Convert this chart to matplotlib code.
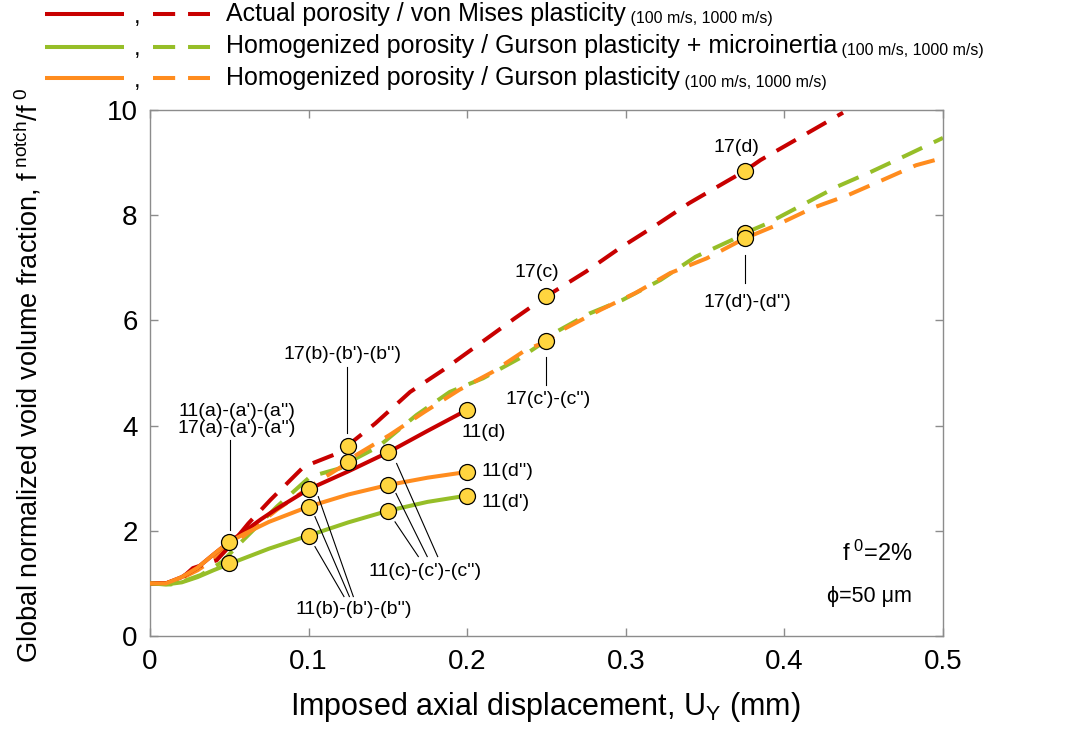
import matplotlib
matplotlib.use('Agg')
import matplotlib.pyplot as plt
from matplotlib.lines import Line2D

plt.rcParams['font.family'] = ['Liberation Sans', 'DejaVu Sans']
plt.rcParams['mathtext.fontset'] = 'custom'
plt.rcParams['mathtext.rm'] = 'Liberation Sans'
plt.rcParams['mathtext.it'] = 'Liberation Sans'

RED = '#C80000'
GREEN = '#96BE28'
ORANGE = '#FF8C1E'
GOLD = '#FFD53F'

# 100 m/s (solid) curves
u_red_100 = [0, 0.01, 0.02, 0.03, 0.04, 0.05, 0.06, 0.07, 0.08, 0.1, 0.125, 0.15, 0.175, 0.2]
f_red_100 = [1.0, 1.0, 1.12, 1.3, 1.55, 1.79, 2.0, 2.22, 2.42, 2.79, 3.13, 3.49, 3.9, 4.3]

u_grn_100 = [0, 0.01, 0.02, 0.03, 0.04, 0.05, 0.075, 0.1, 0.125, 0.15, 0.175, 0.2]
f_grn_100 = [1.0, 0.98, 1.02, 1.12, 1.25, 1.37, 1.66, 1.91, 2.16, 2.38, 2.55, 2.67]

u_org_100 = [0, 0.01, 0.02, 0.03, 0.04, 0.05, 0.06, 0.075, 0.1, 0.125, 0.15, 0.175, 0.2]
f_org_100 = [1.0, 1.0, 1.12, 1.3, 1.55, 1.79, 1.95, 2.17, 2.46, 2.69, 2.87, 3.01, 3.12]

# 1000 m/s (dashed) curves
u_red_1000 = [0, 0.01, 0.02, 0.027, 0.042, 0.05, 0.062, 0.076, 0.097, 0.118, 0.125, 0.142,
              0.164, 0.185, 0.208, 0.23, 0.25, 0.275, 0.296, 0.318, 0.34, 0.364, 0.375,
              0.385, 0.407, 0.437]
f_red_1000 = [1.0, 1.0, 1.1, 1.29, 1.44, 1.7, 2.14, 2.59, 3.22, 3.47, 3.63, 4.04,
              4.64, 5.06, 5.56, 6.04, 6.46, 6.93, 7.37, 7.79, 8.23, 8.65, 8.84,
              9.05, 9.43, 9.95]

u_grn_1000 = [0, 0.013, 0.02, 0.032, 0.045, 0.059, 0.08, 0.101, 0.12, 0.125, 0.144, 0.168,
              0.189, 0.21, 0.233, 0.25, 0.256, 0.277, 0.298, 0.322, 0.344, 0.367, 0.375,
              0.389, 0.411, 0.433, 0.455, 0.477, 0.5]
f_grn_1000 = [1.0, 0.98, 1.03, 1.16, 1.4, 1.83, 2.46, 3.03, 3.19, 3.3, 3.6, 4.2,
              4.64, 4.9, 5.28, 5.62, 5.78, 6.13, 6.39, 6.77, 7.21, 7.53, 7.66,
              7.84, 8.19, 8.54, 8.83, 9.14, 9.47]

u_org_1000 = [0, 0.01, 0.02, 0.03, 0.04, 0.05, 0.06, 0.08, 0.106, 0.125, 0.13, 0.151, 0.173,
              0.195, 0.216, 0.237, 0.25, 0.26, 0.284, 0.306, 0.328, 0.351, 0.375,
              0.395, 0.418, 0.44, 0.462, 0.483, 0.5]
f_org_1000 = [1.0, 1.0, 1.1, 1.25, 1.45, 1.72, 1.92, 2.4, 2.94, 3.3, 3.44, 3.82, 4.26,
              4.68, 5.02, 5.44, 5.6, 5.82, 6.2, 6.52, 6.9, 7.18, 7.56,
              7.81, 8.14, 8.38, 8.67, 8.95, 9.09]

# snapshot points referred to in Figs. 11 and 17
snap_u = [0.05, 0.05, 0.1, 0.1, 0.1, 0.125, 0.125, 0.15, 0.15, 0.15,
          0.2, 0.2, 0.2, 0.25, 0.25, 0.375, 0.375, 0.375]
snap_f = [1.79, 1.38, 2.79, 2.46, 1.91, 3.62, 3.30, 3.49, 2.87, 2.38,
          4.30, 3.12, 2.67, 6.46, 5.60, 8.84, 7.66, 7.56]

legend_labels = ['Actual porosity / von Mises plasticity',
                 'Homogenized porosity / Gurson plasticity + microinertia',
                 'Homogenized porosity / Gurson plasticity']
legend_colors = [RED, GREEN, ORANGE]

fig = plt.figure(figsize=(10.8, 7.34), dpi=100)
ax = fig.add_axes([0.1389, 0.1335, 0.7342, 0.7166])

lw = 2.9
dash = (0, (5.5, 3.2))
ax.plot(u_grn_1000, f_grn_1000, color=GREEN, lw=lw, ls=dash, zorder=2)
ax.plot(u_org_1000, f_org_1000, color=ORANGE, lw=lw, ls=dash, zorder=2)
ax.plot(u_red_1000, f_red_1000, color=RED, lw=lw, ls=dash, zorder=2)
ax.plot(u_red_100, f_red_100, color=RED, lw=lw, zorder=3)
ax.plot(u_grn_100, f_grn_100, color=GREEN, lw=lw, zorder=3)
ax.plot(u_org_100, f_org_100, color=ORANGE, lw=lw, zorder=3)

ax.plot(snap_u, snap_f, 'o', ms=11.5, mfc=GOLD, mec='black', mew=0.9, zorder=5)

ax.set_xlim(0, 0.5)
ax.set_ylim(0, 10)
ax.set_xticks([0, 0.1, 0.2, 0.3, 0.4, 0.5])
ax.set_xticklabels(['0', '0.1', '0.2', '0.3', '0.4', '0.5'])
ax.set_yticks([0, 2, 4, 6, 8, 10])
for s in ax.spines.values():
    s.set_color('#8c8c8c')
    s.set_linewidth(1.0)
ax.tick_params(direction='in', length=6, width=1, color='#8c8c8c', labelsize=20,
               top=True, right=True, pad=9)

ax.set_xlabel(r'Imposed axial displacement, U$_\mathregular{Y}$ (mm)', fontsize=22)
ax.xaxis.set_label_coords(0.498, -0.102)
ax.set_ylabel(r'Global normalized void volume fraction, f$^\mathregular{\ notch}$/f$^\mathregular{\ 0}$',
              fontsize=19.5)
ax.yaxis.set_label_coords(-0.134, 0.496)

# point labels and leader lines
fs = 14
lk = dict(color='black', lw=0.8, zorder=4)
ax.text(0.0546, 4.11, "11(a)-(a')-(a'')\n17(a)-(a')-(a'')", fontsize=fs, ha='center',
        va='center', linespacing=0.95)
ax.plot([0.0504, 0.0504], [3.73, 2.02], **lk)
ax.text(0.1215, 5.36, "17(b)-(b')-(b'')", fontsize=fs, ha='center', va='center')
ax.plot([0.124, 0.124], [5.12, 3.86], **lk)
ax.text(0.1967, 3.86, "11(d)", fontsize=fs, ha='left', va='center')
ax.text(0.209, 3.12, "11(d'')", fontsize=fs, ha='left', va='center')
ax.text(0.209, 2.53, "11(d')", fontsize=fs, ha='left', va='center')
ax.text(0.1734, 1.22, "11(c)-(c')-(c'')", fontsize=fs, ha='center', va='center')
ax.plot([0.1545, 0.1692], [2.17, 1.51], **lk)
ax.plot([0.1551, 0.1748], [2.71, 1.51], **lk)
ax.plot([0.1555, 0.1814], [3.28, 1.51], **lk)
ax.text(0.1282, 0.51, "11(b)-(b')-(b'')", fontsize=fs, ha='center', va='center')
ax.plot([0.104, 0.1223], [1.70, 0.75], **lk)
ax.plot([0.104, 0.1257], [2.27, 0.75], **lk)
ax.plot([0.1061, 0.1282], [2.65, 0.75], **lk)
ax.text(0.244, 6.92, "17(c)", fontsize=fs, ha='center', va='center')
ax.text(0.251, 4.49, "17(c')-(c'')", fontsize=fs, ha='center', va='center')
ax.plot([0.25, 0.25], [5.30, 4.77], **lk)
ax.text(0.370, 9.28, "17(d)", fontsize=fs, ha='center', va='center')
ax.text(0.3764, 6.35, "17(d')-(d'')", fontsize=fs, ha='center', va='center')
ax.plot([0.375, 0.375], [7.24, 6.71], **lk)

ax.text(0.4805, 1.58, r'f$^\mathregular{\ 0}$=2%', fontsize=17, ha='right', va='center')
ax.text(0.4805, 0.75, 'ϕ=50 μm', fontsize=15.5, ha='right', va='center')

# legend drawn in figure pixels: solid line, comma, dashed line, text
W, H = 1080.0, 734.0
rows_y = [13.5, 46.5, 77.5]
for lab, col, yp in zip(legend_labels, legend_colors, rows_y):
    yf = 1 - yp / H
    fig.add_artist(Line2D([45 / W, 124 / W], [yf, yf], color=col, lw=lw, solid_capstyle='butt'))
    fig.add_artist(Line2D([153 / W, 210 / W], [yf, yf], color=col, lw=lw, ls=dash,
                          dash_capstyle='butt'))
    fig.text(137 / W, yf - 3 / H, ',', fontsize=17, ha='center', va='center')
    t = fig.text(226 / W, yf, lab, fontsize=18, ha='left', va='center')
    ax.annotate(' (100 m/s, 1000 m/s)', xy=(1, 0), xycoords=t, fontsize=11.5,
                ha='left', va='bottom', annotation_clip=False)

fig.savefig('out.png', dpi=100)
